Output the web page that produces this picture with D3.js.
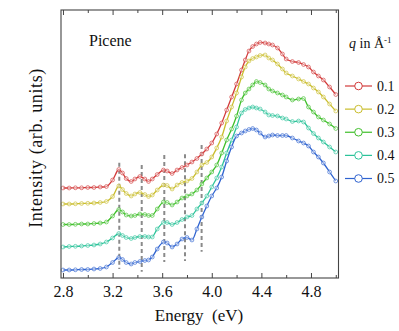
<!DOCTYPE html>
<html><head><meta charset="utf-8">
<script src="https://cdn.jsdelivr.net/npm/d3@7"></script>
<style>
html,body{margin:0;padding:0;background:#fff;}
svg{display:block;}
</style></head>
<body>
<svg id="chart" width="399" height="331"></svg>
<script>
// ---- data ----
const energy = [2.8,2.85,2.9,2.95,3.0,3.05,3.1,3.15,3.2,3.25,3.28,3.31,3.35,3.38,3.42,3.46,3.49,3.52,3.56,3.61,3.64,3.68,3.72,3.76,3.8,3.84,3.88,3.92,3.96,4.0,4.04,4.08,4.12,4.16,4.2,4.24,4.27,4.3,4.33,4.36,4.39,4.43,4.46,4.49,4.53,4.57,4.6,4.65,4.7,4.74,4.78,4.82,4.86,4.9,4.95,5.0];
const qLabels = ["0.1","0.2","0.3","0.4","0.5"];
const q01 = [9.0,9.0,9.02,9.02,9.05,9.05,9.1,9.15,9.8,10.85,10.5,9.95,9.65,9.9,10.15,9.9,9.65,9.9,10.35,10.8,10.7,10.45,10.8,11.05,11.3,11.6,11.95,12.4,12.9,13.5,14.4,15.5,16.8,18.1,19.4,20.8,21.8,22.7,23.15,23.4,23.55,23.5,23.4,23.3,23.0,22.4,21.9,21.65,21.55,21.35,21.1,20.6,20.2,19.8,19.1,18.35];
const q02 = [7.4,7.4,7.42,7.45,7.47,7.5,7.55,7.65,8.15,9.2,8.85,8.45,8.2,8.4,8.55,8.35,8.15,8.3,8.8,9.3,9.25,8.9,9.3,9.55,9.7,9.95,10.6,11.3,11.55,12.1,13.0,14.1,15.7,17.1,18.5,20.1,21.1,21.7,21.95,22.1,22.25,22.3,22.0,21.8,21.4,20.9,20.5,20.2,19.9,19.65,19.4,19.0,18.6,18.1,17.4,16.7];
const q03 = [5.35,5.35,5.37,5.4,5.4,5.45,5.5,5.6,6.2,6.85,6.6,6.3,6.2,6.25,6.4,6.35,6.25,6.25,6.9,7.6,7.55,7.3,7.6,8.0,8.2,8.4,8.8,9.4,10.0,10.6,11.3,12.5,13.8,14.9,16.2,17.8,18.5,18.9,19.3,19.65,19.55,19.3,18.9,18.7,18.5,18.3,18.1,17.8,17.9,17.95,17.1,16.6,16.1,15.8,15.4,14.95];
const q04 = [3.1,3.15,3.17,3.2,3.25,3.3,3.4,3.6,4.0,4.45,4.25,4.05,3.95,4.05,4.15,4.15,4.1,4.1,4.9,5.55,5.55,5.35,5.55,5.85,6.1,6.25,6.9,7.5,8.2,9.1,10.0,11.1,12.5,13.8,15.1,16.5,16.85,17.0,17.1,17.0,16.9,16.6,16.3,16.25,16.2,16.0,15.9,15.65,15.7,15.6,15.0,14.45,14.0,13.6,13.1,12.6];
const q05 = [0.8,0.8,0.82,0.85,0.85,0.9,0.95,1.1,1.55,2.05,1.85,1.55,1.4,1.55,1.65,1.75,1.8,2.1,2.9,3.6,3.5,3.1,3.4,3.9,4.05,3.8,4.9,6.1,7.2,8.2,9.0,10.1,11.7,13.1,14.2,14.5,14.7,14.85,14.95,14.8,14.5,14.1,14.2,14.3,14.25,14.25,14.25,14.0,13.7,13.5,13.2,12.6,12.1,11.5,10.6,9.7];
const colors = ["#d23a3a","#c9bd2c","#3fbf2a","#2cc39a","#2f63d0"];
// dashed peak markers
const dashE = [3.254,3.435,3.617,3.784,3.918];
const dashTop = [11.53,11.3,12.3,12.37,13.3];
const dashBottom = [0.9,0.63,1.61,1.7,2.63];
const xTicks = [2.8,3.2,3.6,4.0,4.4,4.8];
const xMinor = [3.0,3.4,3.8,4.2,4.6,5.0];

const series = [q01,q02,q03,q04,q05];

// ---- layout ----
const FONT = "'Liberation Serif'";
const svg = d3.select("#chart");
const L = 61, R = 338.5, T = 10, B = 278;
const x = d3.scaleLinear().domain([2.784, 5.022]).range([L, R]);
const y = d3.scaleLinear().domain([0, 26.8]).range([B, T]);

// dashed lines
svg.append("g").selectAll("line").data(dashE).join("line")
  .attr("x1", d => x(d)).attr("x2", d => x(d))
  .attr("y1", (d,i) => y(dashTop[i])).attr("y2", (d,i) => y(dashBottom[i]))
  .attr("stroke", "#8a8a8a").attr("stroke-width", 2).attr("stroke-dasharray", "4,3");

// curves
const line = d3.line().x((d,i) => x(energy[i])).y(d => y(d)).curve(d3.curveCatmullRom.alpha(0.5));
const gS = svg.append("g");
series.forEach((s, k) => {
  const g = gS.append("g");
  g.append("path").attr("d", line(s)).attr("fill", "none")
    .attr("stroke", colors[k]).attr("stroke-width", 1.3);
  g.selectAll("circle").data(s).join("circle")
    .attr("cx", (d,i) => x(energy[i])).attr("cy", d => y(d)).attr("r", 1.9)
    .attr("fill", "#fff").attr("fill-opacity", 0.45)
    .attr("stroke", colors[k]).attr("stroke-width", 0.8).attr("stroke-opacity", 0.8);
});

// frame
svg.append("rect").attr("x", L).attr("y", T).attr("width", R - L).attr("height", B - T)
  .attr("fill", "none").attr("stroke", "#444").attr("stroke-width", 1.1);

// axes ticks (inward, bottom and top)
const axB = d3.axisBottom(x).tickValues(xTicks).tickFormat(d3.format(".1f")).tickSizeInner(-5).tickSizeOuter(0).tickPadding(8);
const gB = svg.append("g").attr("transform", `translate(0,${B})`).call(axB);
gB.select(".domain").remove();
gB.selectAll("line").attr("stroke", "#444");
gB.selectAll("text").attr("fill", "#111").style("font-family", FONT).style("font-size", "16px");
const axBm = d3.axisBottom(x).tickValues(xMinor).tickFormat("").tickSizeInner(-3).tickSizeOuter(0);
const gBm = svg.append("g").attr("transform", `translate(0,${B})`).call(axBm);
gBm.select(".domain").remove(); gBm.selectAll("line").attr("stroke", "#444");
const axT = d3.axisTop(x).tickValues(xTicks).tickFormat("").tickSizeInner(-5).tickSizeOuter(0);
const gT = svg.append("g").attr("transform", `translate(0,${T})`).call(axT);
gT.select(".domain").remove(); gT.selectAll("line").attr("stroke", "#444");
const axTm = d3.axisTop(x).tickValues(xMinor).tickFormat("").tickSizeInner(-3).tickSizeOuter(0);
const gTm = svg.append("g").attr("transform", `translate(0,${T})`).call(axTm);
gTm.select(".domain").remove(); gTm.selectAll("line").attr("stroke", "#444");

// axis titles
svg.append("text").attr("x", 199).attr("y", 321).attr("text-anchor", "middle")
  .style("font-family", FONT).style("font-size", "17px").attr("fill", "#111").text("Energy\u00a0\u00a0(eV)");
svg.append("text").attr("transform", "translate(42,148) rotate(-90)").attr("text-anchor", "middle")
  .style("font-family", FONT).style("font-size", "18px").attr("letter-spacing", 0.6).attr("fill", "#111").text("Intensity (arb. units)");

// label
svg.append("text").attr("x", 89).attr("y", 46).style("font-family", FONT).style("font-size", "16px").attr("fill", "#111").text("Picene");

// legend
const lt = svg.append("text").attr("x", 349).attr("y", 48).style("font-family", FONT).style("font-size", "14px").attr("fill", "#111");
lt.append("tspan").attr("font-style", "italic").text("q");
lt.append("tspan").text(" in Å");
lt.append("tspan").attr("dy", -5).style("font-size", "9px").text("-1");
const legY = d3.scaleLinear().domain([0, 4]).range([86, 178.5]);
const lg = svg.append("g");
qLabels.forEach((lab, k) => {
  const yy = legY(k);
  lg.append("line").attr("x1", 345).attr("x2", 372).attr("y1", yy).attr("y2", yy)
    .attr("stroke", colors[k]).attr("stroke-width", 1.2);
  lg.append("circle").attr("cx", 358.5).attr("cy", yy).attr("r", 3.8)
    .attr("fill", "#fff").attr("stroke", colors[k]).attr("stroke-width", 1);
  lg.append("text").attr("x", 377).attr("y", yy + 4.5).style("font-family", FONT).style("font-size", "14px").attr("fill", "#111").text(lab);
});
</script>
</body></html>
